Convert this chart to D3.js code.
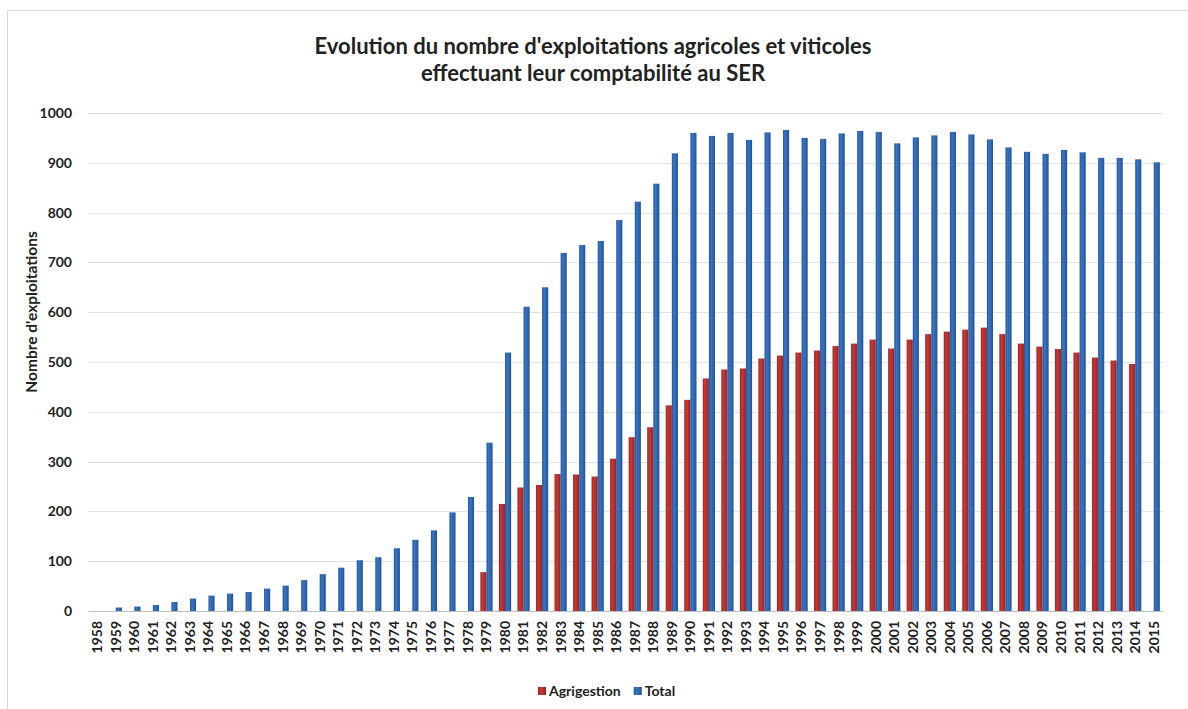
<!DOCTYPE html>
<html>
<head>
<meta charset="utf-8">
<script src="https://cdn.jsdelivr.net/npm/d3@7"></script>
<style>
  body { margin: 0; background: #fff; }
  text { font-family: Lato, "Open Sans", sans-serif; font-weight: bold; fill: #222; }
</style>
</head>
<body>
<svg id="chart" width="1188" height="709"></svg>
<script>
var years = d3.range(1958, 2016).map(String);

var total = [0, 7, 9, 12, 18, 25, 31, 35, 38, 45, 51, 62, 74, 87, 102, 108, 126, 143, 162, 198,
  229, 338, 519, 611, 650, 719, 735, 743, 785, 822, 858, 919, 960, 954, 960, 946, 961, 966, 950, 948,
  959, 964, 962, 939, 951, 955, 962, 957, 947, 931, 922, 918, 926, 921, 910, 910, 907, 901];

var agrigestion = [null, null, null, null, null, null, null, null, null, null, null, null, null, null, null, null, null, null, null, null,
  null, 78, 215, 248, 253, 275, 274, 270, 306, 349, 369, 413, 424, 467, 485, 487, 507, 513, 519, 523,
  532, 537, 545, 527, 545, 556, 561, 565, 569, 556, 537, 531, 526, 519, 509, 503, 496, null];

var yTicks = [0, 100, 200, 300, 400, 500, 600, 700, 800, 900, 1000];

var seriesNames = ["Agrigestion", "Total"];
var seriesColors = {Agrigestion: "#b3302e", Total: "#2f67b1"};

var margin = {top: 113, right: 25, bottom: 98, left: 88};
var width = 1188 - margin.left - margin.right,
    height = 709 - margin.top - margin.bottom;

var svg = d3.select("#chart");

// frame
svg.append("rect")
  .attr("x", 7.5).attr("y", 10.5)
  .attr("width", 1200).attr("height", 720)
  .attr("fill", "none").attr("stroke", "#d9d9d9");

// gradients for the rounded bar look
var defs = svg.append("defs");
seriesNames.forEach(function(name){
  var c = d3.color(seriesColors[name]);
  var g = defs.append("linearGradient").attr("id", "grad_" + name)
    .attr("x1", "0%").attr("x2", "100%").attr("y1", "0%").attr("y2", "0%");
  g.append("stop").attr("offset", "0%").attr("stop-color", c.darker(0.5));
  g.append("stop").attr("offset", "35%").attr("stop-color", c.brighter(0.35));
  g.append("stop").attr("offset", "100%").attr("stop-color", c.darker(0.6));
});

var g = svg.append("g").attr("transform", "translate(" + margin.left + "," + margin.top + ")");

var x = d3.scaleBand().domain(years).range([0, width]).paddingInner(0.34).paddingOuter(0.17);
var xInner = d3.scaleBand().domain(seriesNames).range([0, x.bandwidth()]);
var y = d3.scaleLinear().domain([0, 1000]).range([height, 0]);

// grid
g.append("g")
  .selectAll("line").data(yTicks.slice(1)).enter().append("line")
  .attr("x1", 0).attr("x2", width)
  .attr("y1", function(d){ return Math.round(y(d)) + 0.5; })
  .attr("y2", function(d){ return Math.round(y(d)) + 0.5; })
  .attr("stroke", "#e3e3e3");

// y axis
var yAxis = g.append("g")
  .call(d3.axisLeft(y).tickValues(yTicks).tickFormat(d3.format("d")).tickSize(0).tickPadding(16));
yAxis.select(".domain").remove();
yAxis.selectAll("text").attr("font-size", 14).style("font-family", "Lato, sans-serif").style("font-weight", "bold").attr("fill", "#222");

// bars
var series = [
  {name: "Agrigestion", values: agrigestion},
  {name: "Total", values: total}
];

series.forEach(function(s){
  g.append("g").selectAll("rect")
    .data(years.map(function(yr, i){ return {year: yr, value: s.values[i]}; })
      .filter(function(d){ return d.value != null && d.value > 0; }))
    .enter().append("rect")
    .attr("x", function(d){ return x(d.year) + xInner(s.name); })
    .attr("width", xInner.bandwidth())
    .attr("y", function(d){ return y(d.value); })
    .attr("height", function(d){ return y(0) - y(d.value); })
    .attr("fill", "url(#grad_" + s.name + ")");
});

// x axis
var xAxis = g.append("g")
  .attr("transform", "translate(0," + height + ")")
  .call(d3.axisBottom(x).tickSize(0).tickPadding(0));
xAxis.select(".domain").attr("stroke", "#bfbfbf");
xAxis.selectAll("text")
  .attr("font-size", 14)
  .style("font-family", "Lato, sans-serif").style("font-weight", "bold").attr("fill", "#333")
  .attr("transform", "rotate(-90)")
  .attr("text-anchor", "end")
  .attr("x", -10).attr("y", 0).attr("dy", "0.35em");

// y axis title
svg.append("text")
  .attr("transform", "translate(37,312) rotate(-90)")
  .attr("text-anchor", "middle")
  .attr("font-size", 15.5)
  .text("Nombre d'exploitations");

// title
var title = svg.append("text").attr("text-anchor", "middle").attr("font-size", 22);
title.append("tspan").attr("x", 593).attr("y", 54).text("Evolution du nombre d'exploitations agricoles et viticoles");
title.append("tspan").attr("x", 593).attr("y", 81).text("effectuant leur comptabilité au SER");

// legend
var legend = svg.append("g").attr("transform", "translate(538,691)");
var lx = 0;
seriesNames.forEach(function(name){
  var item = legend.append("g").attr("transform", "translate(" + lx + ",0)");
  item.append("rect").attr("x", 0).attr("y", -4).attr("width", 8).attr("height", 8)
    .attr("fill", "url(#grad_" + name + ")");
  var t = item.append("text").attr("x", 11).attr("y", 5).attr("font-size", 14).text(name);
  lx += 11 + t.node().getComputedTextLength() + 13;
});
</script>
</body>
</html>
